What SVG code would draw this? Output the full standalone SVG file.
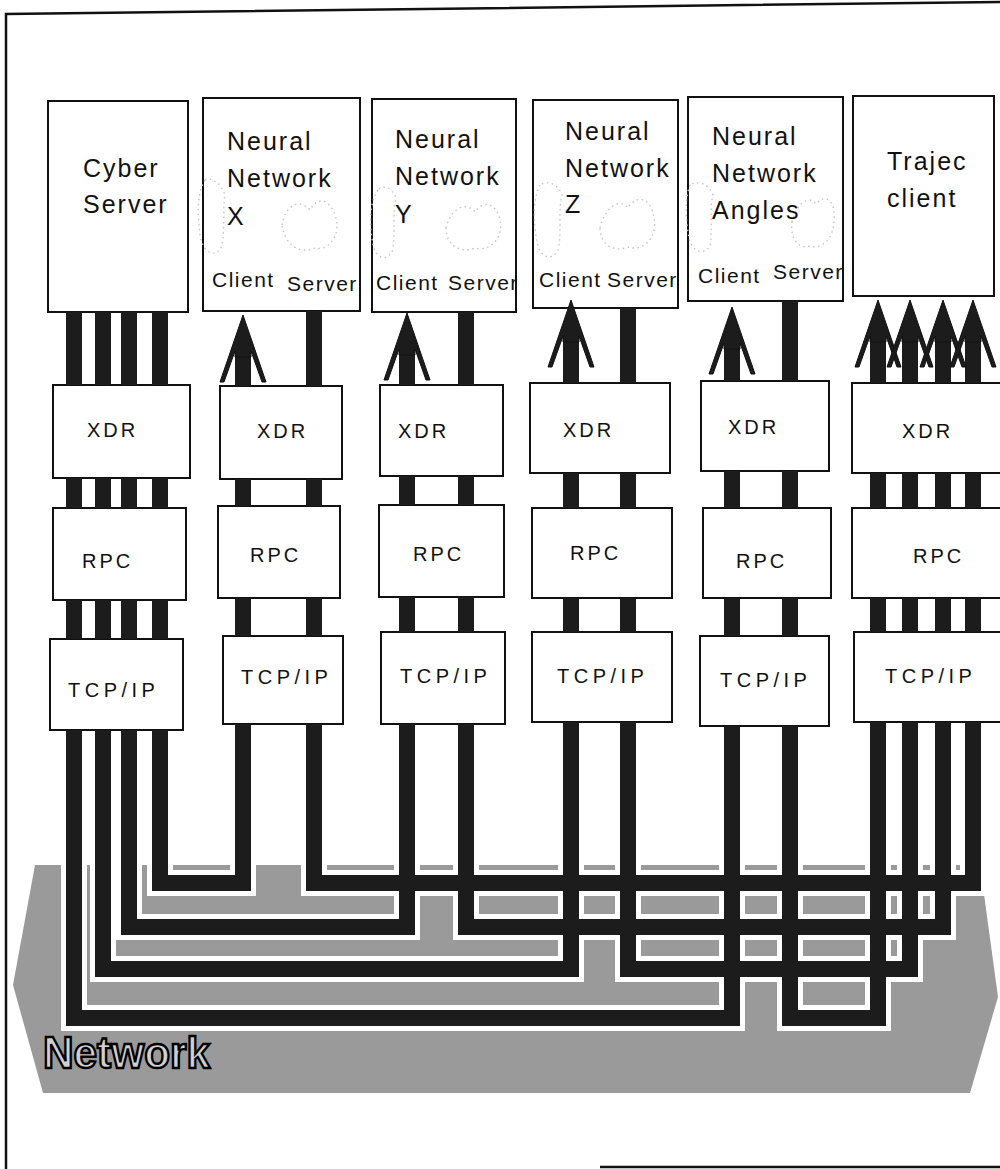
<svg xmlns="http://www.w3.org/2000/svg" width="1000" height="1169" viewBox="0 0 1000 1169">
<style>
  .frame{fill:none;stroke:#111;stroke-width:2.5}
  .box{fill:#fff;stroke:#111;stroke-width:2}
  .t{font-family:"Liberation Sans",Arial,sans-serif;fill:#111}
  .big{font-size:25px;letter-spacing:2px}
  .cs{font-size:21px;letter-spacing:1.5px}
  .lay{font-size:20px;letter-spacing:3px}
  .tcp{font-size:20px;letter-spacing:4.5px}
  .wire{fill:none;stroke:#1c1c1c;stroke-width:16;stroke-linejoin:miter}
  .casing{fill:none;stroke:#fff;stroke-width:26;stroke-linejoin:miter}
  .head{fill:#1c1c1c;stroke:#111;stroke-width:1}
  .doodle{fill:none;stroke:#c4c4c4;stroke-width:1.4;stroke-dasharray:1.5 3.5}
</style>
<defs>
  <path id="ah" d="M0,0 L23,67 L19,67 L8,36 L8,42 L-8,42 L-8,36 L-19,67 L-23,67 Z"/>
</defs>
<rect x="0" y="0" width="1000" height="1169" fill="#fff"/>
<path class="frame" d="M6,1169 V14 L1000,2"/>
<path class="frame" d="M600,1167 H1000"/>

<g id="network">
  <polygon points="35,865 980,865 998,997 970,1093 43,1093 13,985" fill="#9a9a9a"/>
  <text class="t" x="43" y="1068" font-size="44" font-weight="bold" textLength="167" lengthAdjust="spacingAndGlyphs" style="fill:#d0d0d0;stroke:#000;stroke-width:2.4;letter-spacing:0">Network</text>
</g>

<g id="cyber-server">
  <rect class="box" x="48" y="101" width="140" height="211"/>
  <text class="t big" x="83" y="177">Cyber</text>
  <text class="t big" x="83" y="213">Server</text>
</g>
<g id="nn-x">
  <rect class="box" x="203" y="98" width="157" height="213"/>
  <path class="doodle" d="M205,180 C196,195 198,215 200,235 C202,250 212,258 220,250 C226,238 222,210 225,195 C222,185 212,176 205,180 Z"/>
  <path class="doodle" d="M282,225 C285,205 300,198 310,210 C318,195 330,200 335,215 C342,232 330,252 315,248 C300,255 285,245 282,225 Z"/>
  <text class="t big" x="227" y="150">Neural</text>
  <text class="t big" x="227" y="187">Network</text>
  <text class="t big" x="227" y="225">X</text>
  <text class="t cs" x="212" y="287">Client</text>
  <text class="t cs" x="287" y="291">Server</text>
</g>
<g id="nn-y">
  <rect class="box" x="372" y="99" width="144" height="213"/>
  <path class="doodle" d="M378,190 C368,205 370,228 373,245 C376,258 386,262 392,252 C396,238 392,212 396,198 C392,188 384,184 378,190 Z"/>
  <path class="doodle" d="M446,228 C450,210 465,200 475,212 C485,198 497,205 500,220 C504,238 490,252 475,248 C460,254 446,245 446,228 Z"/>
  <text class="t big" x="395" y="148">Neural</text>
  <text class="t big" x="395" y="185">Network</text>
  <text class="t big" x="395" y="223">Y</text>
  <text class="t cs" x="376" y="290">Client</text>
  <text class="t cs" x="448" y="290">Server</text>
</g>
<g id="nn-z">
  <rect class="box" x="533" y="100" width="145" height="208"/>
  <path class="doodle" d="M540,185 C532,200 534,225 537,242 C540,258 552,262 558,250 C562,235 558,208 562,195 C558,184 548,180 540,185 Z"/>
  <path class="doodle" d="M600,228 C604,210 618,196 628,208 C638,192 652,200 654,218 C658,238 643,252 628,247 C613,253 600,244 600,228 Z"/>
  <text class="t big" x="565" y="140">Neural</text>
  <text class="t big" x="565" y="177">Network</text>
  <text class="t big" x="565" y="213">Z</text>
  <text class="t cs" x="539" y="287">Client</text>
  <text class="t cs" x="607" y="287">Server</text>
</g>
<g id="nn-angles">
  <rect class="box" x="688" y="97" width="155" height="204"/>
  <path class="doodle" d="M690,185 C684,200 686,222 689,238 C692,252 704,256 710,246 C713,232 709,208 713,195 C709,184 698,180 690,185 Z"/>
  <path class="doodle" d="M792,222 C796,205 808,194 816,204 C826,192 836,202 834,220 C834,238 822,250 810,246 C798,250 790,238 792,222 Z"/>
  <text class="t big" x="712" y="145">Neural</text>
  <text class="t big" x="712" y="182">Network</text>
  <text class="t big" x="712" y="219">Angles</text>
  <text class="t cs" x="698" y="283">Client</text>
  <text class="t cs" x="773" y="279">Server</text>
</g>
<g id="trajec-client">
  <rect class="box" x="853" y="96" width="141" height="200"/>
  <text class="t big" x="887" y="170">Trajec</text>
  <text class="t big" x="887" y="207">client</text>
</g>

<g id="col1-stack">
  <rect class="box" x="53" y="385" width="137" height="93"/>
  <text class="t lay" x="87" y="437">XDR</text>
  <rect class="box" x="53" y="508" width="133" height="92"/>
  <text class="t lay" x="82" y="568">RPC</text>
  <rect class="box" x="50" y="639" width="133" height="91"/>
  <text class="t tcp" x="68" y="697">TCP/IP</text>
</g>
<g id="col2-stack">
  <rect class="box" x="220" y="386" width="122" height="93"/>
  <text class="t lay" x="257" y="438">XDR</text>
  <rect class="box" x="218" y="506" width="122" height="92"/>
  <text class="t lay" x="250" y="562">RPC</text>
  <rect class="box" x="223" y="636" width="120" height="88"/>
  <text class="t tcp" x="241" y="684">TCP/IP</text>
</g>
<g id="col3-stack">
  <rect class="box" x="380" y="385" width="123" height="91"/>
  <text class="t lay" x="398" y="438">XDR</text>
  <rect class="box" x="379" y="505" width="125" height="92"/>
  <text class="t lay" x="413" y="561">RPC</text>
  <rect class="box" x="381" y="632" width="124" height="92"/>
  <text class="t tcp" x="400" y="683">TCP/IP</text>
</g>
<g id="col4-stack">
  <rect class="box" x="530" y="383" width="140" height="90"/>
  <text class="t lay" x="563" y="437">XDR</text>
  <rect class="box" x="532" y="508" width="140" height="90"/>
  <text class="t lay" x="570" y="560">RPC</text>
  <rect class="box" x="532" y="632" width="140" height="90"/>
  <text class="t tcp" x="557" y="683">TCP/IP</text>
</g>
<g id="col5-stack">
  <rect class="box" x="701" y="381" width="128" height="90"/>
  <text class="t lay" x="728" y="434">XDR</text>
  <rect class="box" x="703" y="508" width="128" height="90"/>
  <text class="t lay" x="736" y="568">RPC</text>
  <rect class="box" x="700" y="636" width="129" height="90"/>
  <text class="t tcp" x="720" y="687">TCP/IP</text>
</g>
<g id="col6-stack">
  <rect class="box" x="852" y="383" width="160" height="90"/>
  <text class="t lay" x="902" y="438">XDR</text>
  <rect class="box" x="852" y="508" width="160" height="90"/>
  <text class="t lay" x="913" y="563">RPC</text>
  <rect class="box" x="854" y="632" width="160" height="90"/>
  <text class="t tcp" x="885" y="683">TCP/IP</text>
</g>

<g id="connectors">
  <path class="casing" d="M74,850 V1018 H732 V850"/>
  <path class="casing" d="M103,850 V969 H571 V850"/>
  <path class="casing" d="M129,850 V927 H407 V850"/>
  <path class="casing" d="M160,850 V883 H243 V850"/>
  <path class="casing" d="M314,850 V883 H973 V850"/>
  <path class="casing" d="M466,850 V927 H943 V850"/>
  <path class="casing" d="M628,850 V969 H910 V850"/>
  <path class="casing" d="M790,850 V1018 H878 V850"/>

  <path class="wire" d="M74,312 V385 M74,478 V508 M74,600 V639 M74,730 V1018 H732 V726 M732,636 V598 M732,508 V471 M732,381 V345"/>
  <path class="wire" d="M103,312 V385 M103,478 V508 M103,600 V639 M103,730 V969 H571 V722 M571,632 V598 M571,508 V473 M571,383 V338"/>
  <path class="wire" d="M129,312 V385 M129,478 V508 M129,600 V639 M129,730 V927 H407 V724 M407,632 V597 M407,505 V476 M407,385 V351"/>
  <path class="wire" d="M160,312 V385 M160,478 V508 M160,600 V639 M160,730 V883 H243 V724 M243,636 V598 M243,506 V479 M243,386 V353"/>
  <path class="wire" d="M314,311 V386 M314,479 V506 M314,598 V636 M314,724 V883 H973 V722 M973,632 V598 M973,508 V473 M973,383 V338"/>
  <path class="wire" d="M466,312 V385 M466,476 V505 M466,597 V632 M466,724 V927 H943 V722 M943,632 V598 M943,508 V473 M943,383 V338"/>
  <path class="wire" d="M628,308 V383 M628,473 V508 M628,598 V632 M628,722 V969 H910 V722 M910,632 V598 M910,508 V473 M910,383 V338"/>
  <path class="wire" d="M790,301 V381 M790,471 V508 M790,598 V636 M790,726 V1018 H878 V722 M878,632 V598 M878,508 V473 M878,383 V338"/>

  <use href="#ah" class="head" x="243" y="315"/>
  <use href="#ah" class="head" x="407" y="313"/>
  <use href="#ah" class="head" x="571" y="300"/>
  <use href="#ah" class="head" x="732" y="307"/>
  <use href="#ah" class="head" x="878" y="300"/>
  <use href="#ah" class="head" x="910" y="300"/>
  <use href="#ah" class="head" x="943" y="300"/>
  <use href="#ah" class="head" x="973" y="300"/>
</g>
</svg>
